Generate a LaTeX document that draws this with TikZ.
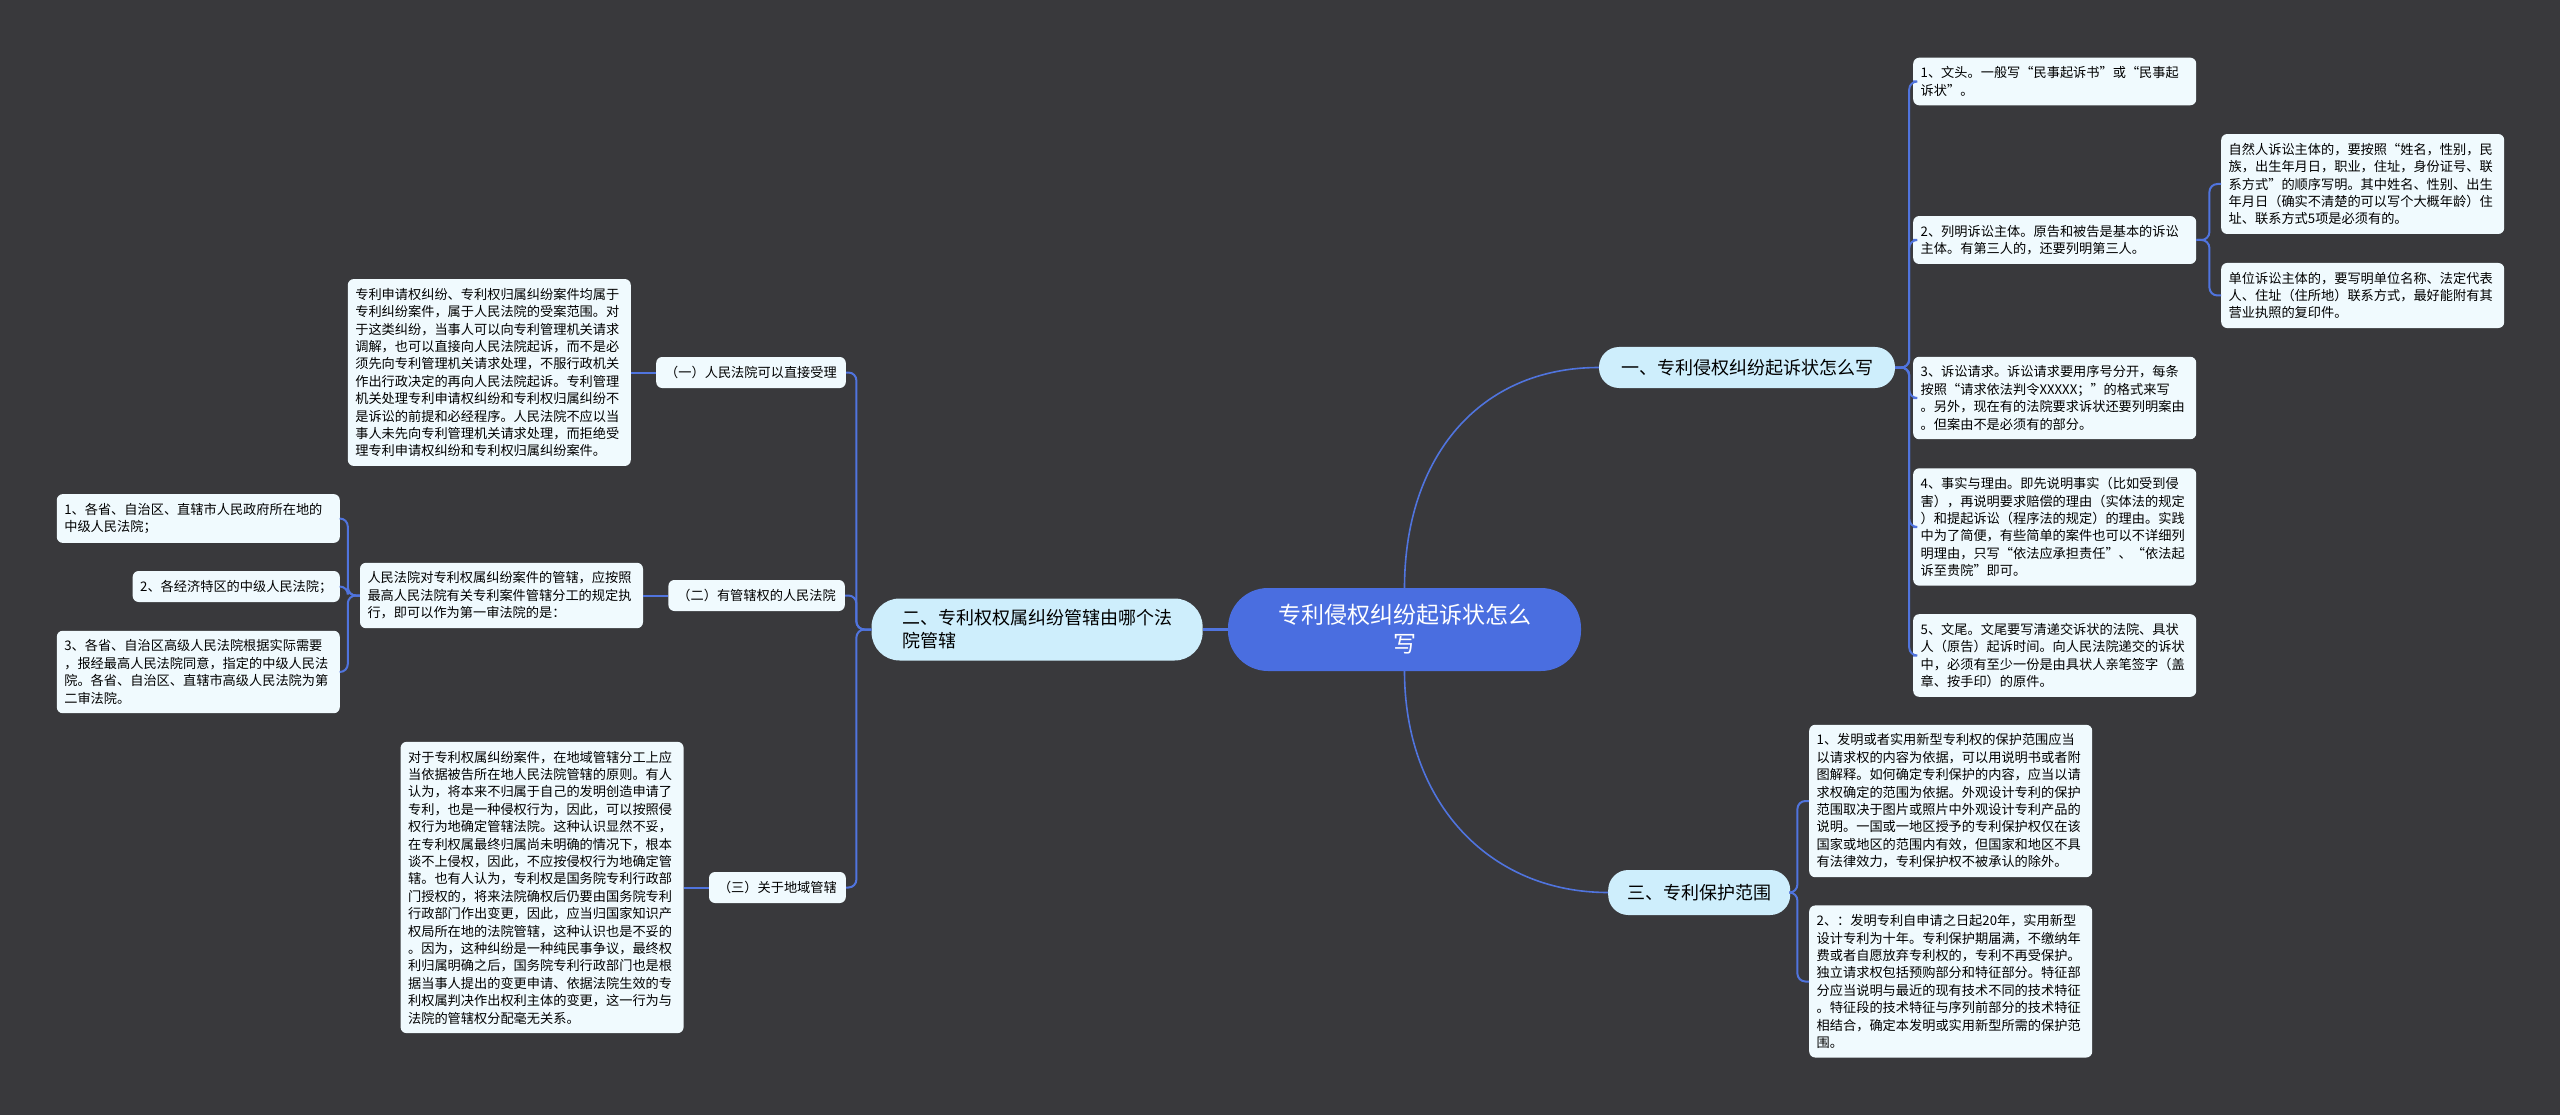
\documentclass[tikz,border=0pt]{standalone}
\usepackage{fontspec}
\setmainfont{Noto Sans CJK SC}
\usetikzlibrary{positioning}
\definecolor{bgcol}{RGB}{57,57,60}
\definecolor{linkcol}{RGB}{80,116,222}
\definecolor{rootcol}{RGB}{74,110,224}
\definecolor{topiccol}{RGB}{206,238,252}
\definecolor{leafcol}{RGB}{240,250,254}
\begin{document}
\begin{tikzpicture}[x=1pt, y=-1pt,
    rootbox/.style={fill=rootcol, text=white, rounded corners=40pt, align=center, text width=260pt, minimum width=353pt, minimum height=83pt, inner xsep=0pt, font=\fontsize{23pt}{29pt}\selectfont},
    topicbox/.style={fill=topiccol, rounded corners=20pt, minimum height=41pt, inner xsep=22pt, font=\fontsize{18pt}{23pt}\selectfont},
    leafbox/.style={fill=leafcol, rounded corners=6pt, text width=268pt, align=left, inner xsep=7.5pt, inner ysep=9pt, font=\fontsize{13.2pt}{17.4pt}\selectfont},
    tagbox/.style={fill=leafcol, rounded corners=6pt, minimum height=31pt, inner xsep=9pt, font=\fontsize{13.2pt}{17.4pt}\selectfont},
    branch/.style={draw=linkcol, line width=2pt, rounded corners=8pt},
    spine/.style={draw=linkcol, line width=1.6pt}]
    \fill[bgcol] (0,0) rectangle (2560,1115);
    \useasboundingbox (0,0) rectangle (2560,1115);

    \node[rootbox] (root) at (1404.5,629.5) {专利侵权纠纷起诉状怎么\\写};
    \node[topicbox] (one) at (1747,367.5) {一、专利侵权纠纷起诉状怎么写};
    \node[topicbox, left=25pt of root, rounded corners=28pt, minimum height=62pt, text width=270pt, align=left, inner xsep=30.5pt] (two) {二、专利权权属纠纷管辖由哪个法\\院管辖};
    \node[topicbox, anchor=west, inner xsep=19pt, minimum height=45pt] (three) at (1608,892.5) {三、专利保护范围};

    \node[leafbox, anchor=west] (r1) at (1913,81.5) {1、文头。一般写“民事起诉书”或“民事起\\诉状”。};
    \node[leafbox, anchor=west] (r2) at (1913,240) {2、列明诉讼主体。原告和被告是基本的诉讼\\主体。有第三人的，还要列明第三人。};
    \node[leafbox, anchor=west] (r2a) at (2221,184) {自然人诉讼主体的，要按照“姓名，性别，民\\族，出生年月日，职业，住址，身份证号、联\\系方式”的顺序写明。其中姓名、性别、出生\\年月日（确实不清楚的可以写个大概年龄）住\\址、联系方式5项是必须有的。};
    \node[leafbox, anchor=west] (r2b) at (2221,295.5) {单位诉讼主体的，要写明单位名称、法定代表\\人、住址（住所地）联系方式，最好能附有其\\营业执照的复印件。};
    \node[leafbox, anchor=west] (r3) at (1913,398) {3、诉讼请求。诉讼请求要用序号分开，每条\\按照“请求依法判令XXXXX；”的格式来写\\。另外，现在有的法院要求诉状还要列明案由\\。但案由不是必须有的部分。};
    \node[leafbox, anchor=west] (r4) at (1913,527) {4、事实与理由。即先说明事实（比如受到侵\\害），再说明要求赔偿的理由（实体法的规定\\）和提起诉讼（程序法的规定）的理由。实践\\中为了简便，有些简单的案件也可以不详细列\\明理由，只写“依法应承担责任”、“依法起\\诉至贵院”即可。};
    \node[leafbox, anchor=west] (r5) at (1913,655.5) {5、文尾。文尾要写清递交诉状的法院、具状\\人（原告）起诉时间。向人民法院递交的诉状\\中，必须有至少一份是由具状人亲笔签字（盖\\章、按手印）的原件。};

    \node[leafbox, anchor=west] (b1) at (1809,801) {1、发明或者实用新型专利权的保护范围应当\\以请求权的内容为依据，可以用说明书或者附\\图解释。如何确定专利保护的内容，应当以请\\求权确定的范围为依据。外观设计专利的保护\\范围取决于图片或照片中外观设计专利产品的\\说明。一国或一地区授予的专利保护权仅在该\\国家或地区的范围内有效，但国家和地区不具\\有法律效力，专利保护权不被承认的除外。};
    \node[leafbox, anchor=west] (b2) at (1809,981.5) {2、：发明专利自申请之日起20年，实用新型\\设计专利为十年。专利保护期届满，不缴纳年\\费或者自愿放弃专利权的，专利不再受保护。\\独立请求权包括预购部分和特征部分。特征部\\分应当说明与最近的现有技术不同的技术特征\\。特征段的技术特征与序列前部分的技术特征\\相结合，确定本发明或实用新型所需的保护范\\围。};

    \node[tagbox, anchor=east] (sub1) at (846,372.5) {（一）人民法院可以直接受理};
    \node[tagbox, anchor=east] (sub2) at (845,595.5) {（二）有管辖权的人民法院};
    \node[tagbox, anchor=east] (sub3) at (846,887.5) {（三）关于地域管辖};
    \node[leafbox, left=25pt of sub1] (t1) {专利申请权纠纷、专利权归属纠纷案件均属于\\专利纠纷案件，属于人民法院的受案范围。对\\于这类纠纷，当事人可以向专利管理机关请求\\调解，也可以直接向人民法院起诉，而不是必\\须先向专利管理机关请求处理，不服行政机关\\作出行政决定的再向人民法院起诉。专利管理\\机关处理专利申请权纠纷和专利权归属纠纷不\\是诉讼的前提和必经程序。人民法院不应以当\\事人未先向专利管理机关请求处理，而拒绝受\\理专利申请权纠纷和专利权归属纠纷案件。};
    \node[leafbox, left=25pt of sub2] (t2) {人民法院对专利权属纠纷案件的管辖，应按照\\最高人民法院有关专利案件管辖分工的规定执\\行，即可以作为第一审法院的是：};
    \node[leafbox, anchor=east] (t2a) at (340,518.5) {1、各省、自治区、直辖市人民政府所在地的\\中级人民法院；};
    \node[tagbox, anchor=east, inner xsep=7.5pt] (t2b) at (340,586.5) {2、各经济特区的中级人民法院；};
    \node[leafbox, anchor=east] (t2c) at (340,672) {3、各省、自治区高级人民法院根据实际需要\\，报经最高人民法院同意，指定的中级人民法\\院。各省、自治区、直辖市高级人民法院为第\\二审法院。};
    \node[leafbox, left=25pt of sub3] (t3) {对于专利权属纠纷案件，在地域管辖分工上应\\当依据被告所在地人民法院管辖的原则。有人\\认为，将本来不归属于自己的发明创造申请了\\专利，也是一种侵权行为，因此，可以按照侵\\权行为地确定管辖法院。这种认识显然不妥，\\在专利权属最终归属尚未明确的情况下，根本\\谈不上侵权，因此，不应按侵权行为地确定管\\辖。也有人认为，专利权是国务院专利行政部\\门授权的，将来法院确权后仍要由国务院专利\\行政部门作出变更，因此，应当归国家知识产\\权局所在地的法院管辖，这种认识也是不妥的\\。因为，这种纠纷是一种纯民事争议，最终权\\利归属明确之后，国务院专利行政部门也是根\\据当事人提出的变更申请、依据法院生效的专\\利权属判决作出权利主体的变更，这一行为与\\法院的管辖权分配毫无关系。};

    \draw[spine] (root.north) .. controls +(0,-130) and +(-120,0) .. (one.west);
    \draw[spine] (root.south) .. controls +(0,130) and +(-120,0) .. (three.west);
    \draw[branch, line width=2.5pt] (root.west) -- (two.east);
    \draw[branch] (one.east) -- ++(14,0) |- (r1.west);
    \draw[branch] (one.east) -- ++(14,0) |- (r2.west);
    \draw[branch] (one.east) -- ++(14,0) |- (r3.west);
    \draw[branch] (one.east) -- ++(14,0) |- (r4.west);
    \draw[branch] (one.east) -- ++(14,0) |- (r5.west);
    \draw[branch] (r2.east) -- ++(13,0) |- (r2a.west);
    \draw[branch] (r2.east) -- ++(13,0) |- (r2b.west);
    \draw[branch] (three.east) -- ++(7,0) |- (b1.west);
    \draw[branch] (three.east) -- ++(7,0) |- (b2.west);
    \draw[branch] (two.west) -- ++(-15,0) |- (sub1.east);
    \draw[branch] (two.west) -- ++(-15,0) |- (sub2.east);
    \draw[branch] (two.west) -- ++(-15,0) |- (sub3.east);
    \draw[branch] (sub1.west) -- (t1.east);
    \draw[branch] (sub2.west) -- (t2.east);
    \draw[branch] (sub3.west) -- (t3.east);
    \draw[branch] (t2.west) -- ++(-12,0) |- (t2a.east);
    \draw[branch] (t2.west) -- ++(-12,0) |- (t2b.east);
    \draw[branch] (t2.west) -- ++(-12,0) |- (t2c.east);
\end{tikzpicture}
\end{document}
